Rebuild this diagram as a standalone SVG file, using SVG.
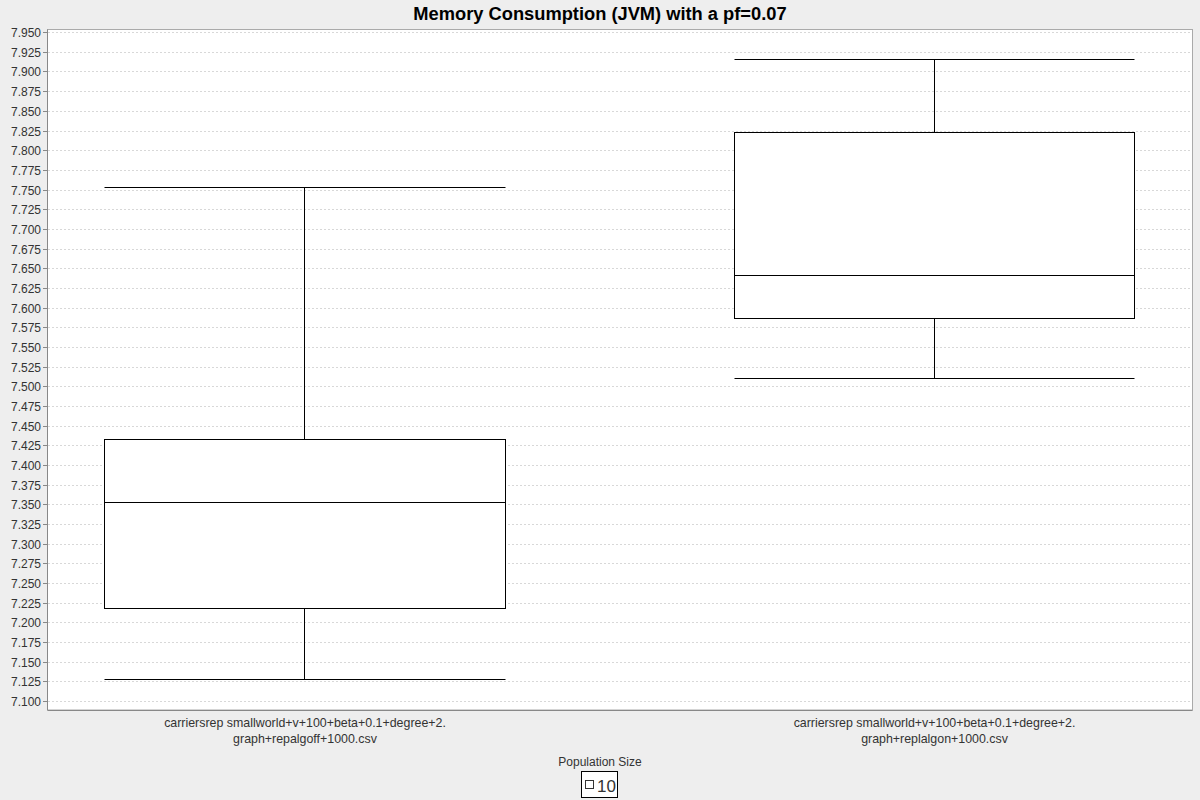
<svg xmlns="http://www.w3.org/2000/svg" width="1200" height="800" viewBox="0 0 1200 800">
<style>
text{font-family:"Liberation Sans",Arial,sans-serif;fill:#333}
.tick{font-size:12px;text-anchor:end}
.cat{font-size:12.4px;text-anchor:middle}
.grid{stroke:#d8d8d8;stroke-width:1;stroke-dasharray:2,2}
.box{fill:#fff;stroke:#000;stroke-width:1}
.wh{stroke:#000;stroke-width:1;fill:none}
.tk{stroke:#888;stroke-width:1}
</style>
<rect x="0" y="0" width="1200" height="800" fill="#eeeeee"/>
<text x="600" y="20" text-anchor="middle" style="font-size:18.3px;font-weight:bold;fill:#000">Memory Consumption (JVM) with a pf=0.07</text>
<g id="plot">
<rect x="47.5" y="29.5" width="1145" height="680.5" fill="#fff" stroke="#aaaaaa"/>
<g id="grid">
<line class="grid" x1="48" x2="1192" y1="701.5" y2="701.5"/>
<line class="grid" x1="48" x2="1192" y1="681.5" y2="681.5"/>
<line class="grid" x1="48" x2="1192" y1="662.5" y2="662.5"/>
<line class="grid" x1="48" x2="1192" y1="642.5" y2="642.5"/>
<line class="grid" x1="48" x2="1192" y1="622.5" y2="622.5"/>
<line class="grid" x1="48" x2="1192" y1="603.5" y2="603.5"/>
<line class="grid" x1="48" x2="1192" y1="583.5" y2="583.5"/>
<line class="grid" x1="48" x2="1192" y1="563.5" y2="563.5"/>
<line class="grid" x1="48" x2="1192" y1="544.5" y2="544.5"/>
<line class="grid" x1="48" x2="1192" y1="524.5" y2="524.5"/>
<line class="grid" x1="48" x2="1192" y1="504.5" y2="504.5"/>
<line class="grid" x1="48" x2="1192" y1="485.5" y2="485.5"/>
<line class="grid" x1="48" x2="1192" y1="465.5" y2="465.5"/>
<line class="grid" x1="48" x2="1192" y1="445.5" y2="445.5"/>
<line class="grid" x1="48" x2="1192" y1="426.5" y2="426.5"/>
<line class="grid" x1="48" x2="1192" y1="406.5" y2="406.5"/>
<line class="grid" x1="48" x2="1192" y1="386.5" y2="386.5"/>
<line class="grid" x1="48" x2="1192" y1="367.5" y2="367.5"/>
<line class="grid" x1="48" x2="1192" y1="347.5" y2="347.5"/>
<line class="grid" x1="48" x2="1192" y1="327.5" y2="327.5"/>
<line class="grid" x1="48" x2="1192" y1="308.5" y2="308.5"/>
<line class="grid" x1="48" x2="1192" y1="288.5" y2="288.5"/>
<line class="grid" x1="48" x2="1192" y1="268.5" y2="268.5"/>
<line class="grid" x1="48" x2="1192" y1="249.5" y2="249.5"/>
<line class="grid" x1="48" x2="1192" y1="229.5" y2="229.5"/>
<line class="grid" x1="48" x2="1192" y1="209.5" y2="209.5"/>
<line class="grid" x1="48" x2="1192" y1="190.5" y2="190.5"/>
<line class="grid" x1="48" x2="1192" y1="170.5" y2="170.5"/>
<line class="grid" x1="48" x2="1192" y1="150.5" y2="150.5"/>
<line class="grid" x1="48" x2="1192" y1="131.5" y2="131.5"/>
<line class="grid" x1="48" x2="1192" y1="111.5" y2="111.5"/>
<line class="grid" x1="48" x2="1192" y1="91.5" y2="91.5"/>
<line class="grid" x1="48" x2="1192" y1="71.5" y2="71.5"/>
<line class="grid" x1="48" x2="1192" y1="52.5" y2="52.5"/>
<line class="grid" x1="48" x2="1192" y1="32.5" y2="32.5"/>
</g>
<line x1="47.5" y1="29.5" x2="47.5" y2="710" stroke="#888"/>
<line x1="47.5" y1="710.5" x2="1192.5" y2="710.5" stroke="#888"/>
</g>
<g id="yaxis">
<path class="tk" d="M43 701.5h4M43 681.5h4M43 662.5h4M43 642.5h4M43 622.5h4M43 603.5h4M43 583.5h4M43 563.5h4M43 544.5h4M43 524.5h4M43 504.5h4M43 485.5h4M43 465.5h4M43 445.5h4M43 426.5h4M43 406.5h4M43 386.5h4M43 367.5h4M43 347.5h4M43 327.5h4M43 308.5h4M43 288.5h4M43 268.5h4M43 249.5h4M43 229.5h4M43 209.5h4M43 190.5h4M43 170.5h4M43 150.5h4M43 131.5h4M43 111.5h4M43 91.5h4M43 71.5h4M43 52.5h4M43 32.5h4"/>
<text class="tick" x="41" y="706">7.100</text>
<text class="tick" x="41" y="686">7.125</text>
<text class="tick" x="41" y="667">7.150</text>
<text class="tick" x="41" y="647">7.175</text>
<text class="tick" x="41" y="627">7.200</text>
<text class="tick" x="41" y="608">7.225</text>
<text class="tick" x="41" y="588">7.250</text>
<text class="tick" x="41" y="568">7.275</text>
<text class="tick" x="41" y="549">7.300</text>
<text class="tick" x="41" y="529">7.325</text>
<text class="tick" x="41" y="509">7.350</text>
<text class="tick" x="41" y="490">7.375</text>
<text class="tick" x="41" y="470">7.400</text>
<text class="tick" x="41" y="450">7.425</text>
<text class="tick" x="41" y="431">7.450</text>
<text class="tick" x="41" y="411">7.475</text>
<text class="tick" x="41" y="391">7.500</text>
<text class="tick" x="41" y="372">7.525</text>
<text class="tick" x="41" y="352">7.550</text>
<text class="tick" x="41" y="332">7.575</text>
<text class="tick" x="41" y="313">7.600</text>
<text class="tick" x="41" y="293">7.625</text>
<text class="tick" x="41" y="273">7.650</text>
<text class="tick" x="41" y="254">7.675</text>
<text class="tick" x="41" y="234">7.700</text>
<text class="tick" x="41" y="214">7.725</text>
<text class="tick" x="41" y="195">7.750</text>
<text class="tick" x="41" y="175">7.775</text>
<text class="tick" x="41" y="155">7.800</text>
<text class="tick" x="41" y="136">7.825</text>
<text class="tick" x="41" y="116">7.850</text>
<text class="tick" x="41" y="96">7.875</text>
<text class="tick" x="41" y="76">7.900</text>
<text class="tick" x="41" y="57">7.925</text>
<text class="tick" x="41" y="37">7.950</text>
</g>
<g id="box-repalgoff">
<path class="wh" d="M104.5 187.5H505.5M304.5 187.5V439.5M304.5 608.5V679.5M104.5 679.5H505.5"/>
<rect class="box" x="104.5" y="439.5" width="401" height="169"/>
<line class="wh" x1="104.5" y1="502.5" x2="505.5" y2="502.5"/>
</g>
<g id="box-replalgon">
<path class="wh" d="M734.5 59.5H1134.5M934.5 59.5V132.5M934.5 318.5V378.5M734.5 378.5H1134.5"/>
<rect class="box" x="734.5" y="132.5" width="400" height="186"/>
<line class="wh" x1="734.5" y1="275.5" x2="1134.5" y2="275.5"/>
</g>
<g id="xaxis">
<text class="cat" x="305" y="727">carriersrep smallworld+v+100+beta+0.1+degree+2.</text>
<text class="cat" x="305" y="743">graph+repalgoff+1000.csv</text>
<text class="cat" x="934.5" y="727">carriersrep smallworld+v+100+beta+0.1+degree+2.</text>
<text class="cat" x="934.5" y="743">graph+replalgon+1000.csv</text>
</g>
<g id="legend">
<text x="600" y="766" text-anchor="middle" style="font-size:12px">Population Size</text>
<rect x="581.5" y="771.5" width="36" height="26" fill="#fff" stroke="#000"/>
<rect x="585.5" y="780.5" width="8" height="8" fill="#fff" stroke="#333"/>
<text x="597" y="792" style="font-size:17px">10</text>
</g>
</svg>
